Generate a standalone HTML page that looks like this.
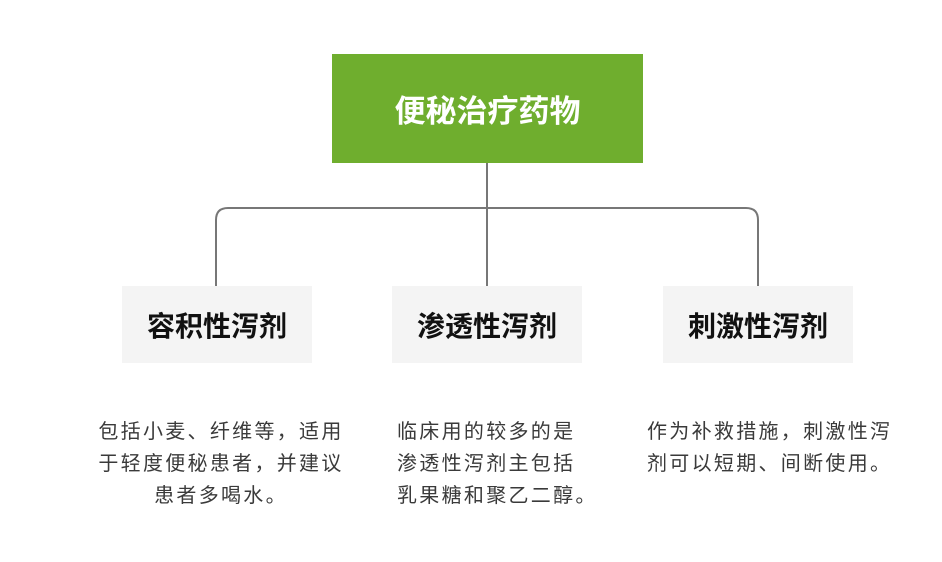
<!DOCTYPE html>
<html><head><meta charset="utf-8"><style>
body{margin:0;width:942px;height:562px;background:#fff;position:relative;overflow:hidden;font-family:"Liberation Sans","Noto Sans CJK SC",sans-serif}
.top{position:absolute;left:332px;top:54px;width:311px;height:109px;background:#6fae2e;color:#fff;font-weight:bold;font-size:31px;display:flex;align-items:center;justify-content:center}
.box{position:absolute;top:286px;width:190px;height:77px;background:#f4f4f4;color:#111;font-weight:bold;font-size:28px;display:flex;align-items:center;justify-content:center}
.d{position:absolute;top:416px;width:280px;text-align:center;color:#3a3a3a;font-size:20px;line-height:32px;letter-spacing:2.3px}
</style></head><body>
<svg style="position:absolute;left:0;top:0" width="942" height="562">
<g fill="none" stroke="#777" stroke-width="2">
<path d="M487 163V286"/>
<path d="M216 286V220Q216 208 228 208H746Q758 208 758 220V286"/>
</g></svg>
<div class="top">便秘治疗药物</div>
<div class="box" style="left:122px">容积性泻剂</div>
<div class="box" style="left:392px">渗透性泻剂</div>
<div class="box" style="left:663px">刺激性泻剂</div>
<div class="d" style="left:81px">包括小麦、纤维等，适用<br>于轻度便秘患者，并建议<br>患者多喝水。</div>
<div class="d" style="text-align:left;left:397px;width:220px">临床用的较多的是<br>渗透性泻剂主包括<br>乳果糖和聚乙二醇。</div>
<div class="d" style="left:647px;text-align:left;width:280px">作为补救措施，刺激性泻<br>剂可以短期、间断使用。</div>
</body></html>
